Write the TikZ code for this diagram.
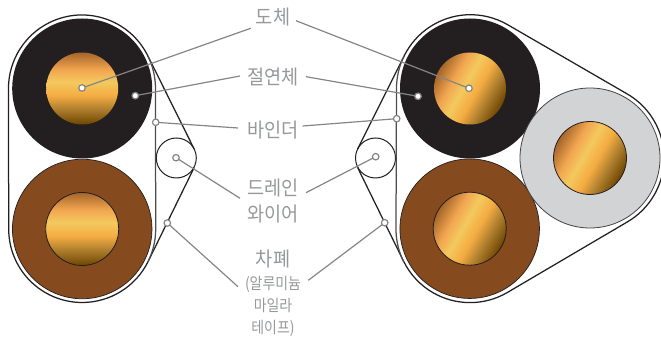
\documentclass[tikz,border=0pt]{standalone}
\usepackage{fontspec}
\newfontfamily\kor{Noto Sans CJK KR}
\usetikzlibrary{arrows, arrows.meta}
\definecolor{sheath}{HTML}{231F20}
\definecolor{copper}{HTML}{854A1E}
\definecolor{pale}{HTML}{D1D3D4}
\definecolor{tag}{HTML}{96989A}
\definecolor{leadgray}{HTML}{858585}
\definecolor{bandA}{HTML}{6E4500}
\definecolor{bandB}{HTML}{B0802F}
\definecolor{bandC}{HTML}{F4AC42}
\definecolor{bandD}{HTML}{F3C95E}
\definecolor{bandE}{HTML}{F2A650}
\definecolor{bandF}{HTML}{A5652A}
\pgfdeclareverticalshading{coreband}{100bp}{color(0bp)=(bandA);color(25bp)=(bandA);color(36bp)=(bandB);color(45bp)=(bandC);color(54.5bp)=(bandD);color(63bp)=(bandE);color(75bp)=(bandF);color(100bp)=(bandF)}
\tikzset{
    wire/.style={circle, inner sep=0pt, outer sep=0pt, minimum size=#1},
    blackjacket/.style={wire=140pt, fill=sheath},
    brownjacket/.style={wire=139.5pt, fill=copper, draw=sheath, line width=.7pt},
    grayjacket/.style={wire=140pt, fill=pale, draw=sheath!85, line width=.8pt},
    core/.style={wire=#1, shade, shading=coreband},
    coreflat/.style={core=72pt},
    corelined/.style={core=73pt, draw=sheath, line width=.8pt},
    shell/.style={draw=sheath, line width=1.25pt},
    binder/.style={draw=sheath!80, line width=1.25pt},
    drainwire/.style={wire=40pt, draw=sheath, line width=1pt},
    dotm/.style={circle, inner sep=0pt, outer sep=0pt, minimum size=6.5pt, fill=white, draw=leadgray, line width=1.2pt},
    lead/.style={draw=leadgray, line width=1.2pt},
    lbl/.style={inner sep=0pt, text=tag, transform shape, xscale=.93, font=\kor\fontsize{20}{22}\selectfont},
    lblsmall/.style={inner sep=0pt, text=tag, transform shape, xscale=.87, font=\kor\fontsize{16}{18}\selectfont}
}
\begin{document}
\begin{tikzpicture}[x=1pt, y=1pt]
    \useasboundingbox (0,0) rectangle (661,342);
    \node[blackjacket] (insL) at (82.2,253.5) {};
    \node[brownjacket] (brownL) at (82.2,113) {};
    \node[coreflat] (coreA) at (82.2,253.5) {};
    \node[corelined] (coreB) at (82.2,113) {};
    \node[blackjacket] (insR) at (470,253.5) {};
    \node[brownjacket] (brownR) at (469.7,113.3) {};
    \node[grayjacket] (grayR) at (590,184) {};
    \node[coreflat, shading angle=60] (coreC) at (470,253.5) {};
    \node[corelined, shading angle=60] (coreD) at (469.7,113.3) {};
    \node[corelined, shading angle=60] (coreE) at (590,184) {};
    \node[drainwire] (drainL) at (176.3,184) {};
    \node[drainwire] (drainR) at (375.5,184) {};
    \draw[shell] (194.2,192.9) -- (147.8,286.2) arc (26.4:180:73.5pt) -- (8.7,113) arc (180:333.6:73.5pt) -- (194.2,174.5);
    \draw[binder] (147.8,286.2) arc (26.4:0:73.5pt) -- (155.7,113) arc (0:-26.4:73.5pt);
    \draw[shell] (357.6,192.9) -- (404.2,286.2) arc (153.6:60:74pt) -- (627.1,248.1) arc (60:-60:74pt) -- (507,49.3) arc (-60:-153.6:74pt) -- (357.6,174.5);
    \draw[binder] (404.2,286.2) arc (153.6:180:74pt) -- (396,113) arc (180:206.4:74pt);
    \node[lbl] (doche) at (273,325) {도체};
    \node[lbl] (jeol) at (273,265) {절연체};
    \node[lbl] (baind) at (273,212) {바인더};
    \node[lbl] (deurein) at (273,154) {드레인};
    \node[lbl] (waieo) at (273,128) {와이어};
    \node[lbl] (chape) at (273,83) {차폐};
    \node[lblsmall] (alu) at (273,58) {(알루미늄};
    \node[lblsmall] (mai) at (273,36) {마일라};
    \node[lblsmall] (teip) at (273,14) {테이프)};
    \node[dotm] (condL) at (82,254) {};
    \node[dotm] (nsulL) at (135.3,246.3) {};
    \node[dotm] (bindL) at (155.7,219.7) {};
    \node[dotm] (drnL) at (176,184.3) {};
    \node[dotm] (shldL) at (167.3,119) {};
    \node[dotm] (condR) at (469,253.7) {};
    \node[dotm] (nsulR) at (418,245.7) {};
    \node[dotm] (bindR) at (396.7,223.3) {};
    \node[dotm] (drnR) at (375.7,185.3) {};
    \node[dotm] (shldR) at (384.7,119.3) {};
    \coordinate (condLend) at (250.7,313.7);
    \coordinate (condRend) at (296,321.3);
    \coordinate (nsulLend) at (240,266);
    \coordinate (nsulRend) at (306,265.3);
    \coordinate (bindLend) at (238,214);
    \coordinate (bindRend) at (302.7,216);
    \coordinate (drnLend) at (240,143.7);
    \coordinate (drnRend) at (306,149.3);
    \coordinate (shldLend) at (238,55.3);
    \coordinate (shldRend) at (308.3,61.7);
    \draw[lead] (condL) -- (condLend);
    \draw[lead] (condR) -- (condRend);
    \draw[lead] (nsulL) -- (nsulLend);
    \draw[lead] (nsulR) -- (nsulRend);
    \draw[lead] (bindL) -- (bindLend);
    \draw[lead] (bindR) -- (bindRend);
    \draw[lead] (drnL) -- (drnLend);
    \draw[lead] (drnR) -- (drnRend);
    \draw[lead] (shldL) -- (shldLend);
    \draw[lead] (shldR) -- (shldRend);
\end{tikzpicture}
\end{document}
